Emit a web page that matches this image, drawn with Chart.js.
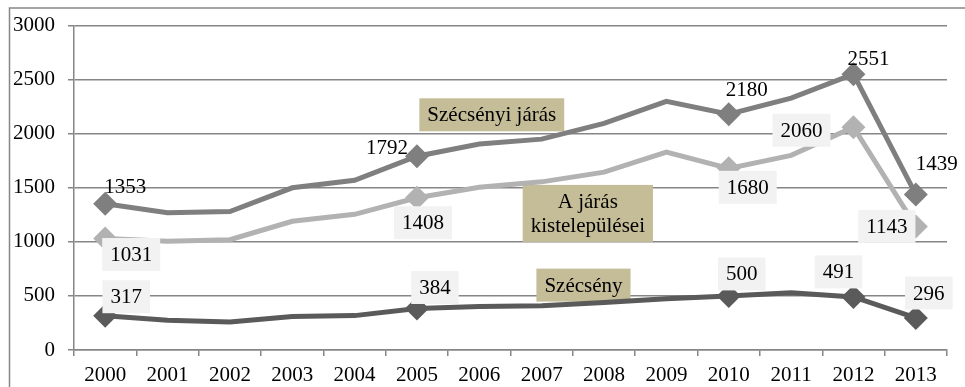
<!DOCTYPE html>
<html>
<head>
<meta charset="utf-8">
<script src="https://cdn.jsdelivr.net/npm/chart.js@4.4.1/dist/chart.umd.min.js"></script>
<style>
  html, body { margin: 0; padding: 0; background: #fff; }
  #wrap { width: 965px; height: 387px; position: relative; }
</style>
</head>
<body>
<div id="wrap"><canvas id="lakossag"></canvas></div>
<script>
// évek és a három sorozat
const evek = ["2000", "2001", "2002", "2003", "2004", "2005", "2006",
              "2007", "2008", "2009", "2010", "2011", "2012", "2013"];
const szecsenyiJaras = [1353, 1270, 1280, 1500, 1570, 1792, 1905, 1950, 2095, 2300, 2180, 2330, 2551, 1439];
const kistelepulesek = [1031, 1005, 1020, 1190, 1255, 1408, 1505, 1555, 1645, 1830, 1680, 1800, 2060, 1143];
const szecseny = [317, 275, 260, 310, 318, 384, 402, 410, 440, 475, 500, 530, 491, 296];
const jelolt = [0, 5, 10, 12, 13]; // csak ezeknél az éveknél van jelölő és címke
const yTicks = [0, 500, 1000, 1500, 2000, 2500, 3000];

const SERIF = "'Liberation Serif', 'Times New Roman', serif";
const GRID = "#868686";
const BETU = 21;
Chart.defaults.font.family = SERIF;
Chart.defaults.font.size = BETU;
Chart.defaults.color = "#000";

// címkék eltolása a ponthoz képest (px), doboz = szürke háttér
const cimkek = [
  { box: false, off: [[20, -17], [-30, -9], [18, -25], [15, -16], [21, -31]] },
  { box: true,  off: [[26, 16], [6, 25], [19, 19], [-52, 3], [-29, 0]] },
  { box: true,  off: [[21, -19], [18, -21], [13, -22], [-15, -25], [13, -25]] }
];

// sorozatnevek drapp dobozban (x: évindex, y: érték)
const nevek = [
  { sorok: ["Szécsényi járás"], x: 6.2, y: 2175 },
  { sorok: ["A járás", "kistelepülései"], x: 7.74, y: 1263 },
  { sorok: ["Szécsény"], x: 7.67, y: 600 }
];

const keret = {
  id: "keret",
  beforeDraw(chart) {
    const c = chart.ctx;
    c.save();
    c.strokeStyle = GRID;
    c.lineWidth = 1.5;
    c.beginPath();
    c.moveTo(9.5, chart.height);
    c.lineTo(9.5, 8);
    c.lineTo(chart.width, 8);
    c.stroke();
    c.restore();
  }
};

const nevDobozok = {
  id: "nevDobozok",
  beforeDatasetsDraw(chart) {
    const c = chart.ctx;
    const xs = chart.scales.x, ys = chart.scales.y;
    c.save();
    c.font = BETU + "px " + SERIF;
    c.textAlign = "center";
    c.textBaseline = "middle";
    nevek.forEach(n => {
      const cx = xs.getPixelForValue(n.x);
      const cy = ys.getPixelForValue(n.y);
      const w = Math.max(...n.sorok.map(s => c.measureText(s).width)) + 16;
      const lh = 24;
      const h = n.sorok.length * lh + 9;
      c.fillStyle = "#c4bd97";
      c.fillRect(cx - w / 2, cy - h / 2, w, h);
      c.fillStyle = "#000";
      n.sorok.forEach((s, i) => {
        c.fillText(s, cx, cy - ((n.sorok.length - 1) * lh) / 2 + i * lh + 1);
      });
    });
    c.restore();
  }
};

const ertekCimkek = {
  id: "ertekCimkek",
  afterDatasetsDraw(chart) {
    const c = chart.ctx;
    c.save();
    c.font = BETU + "px " + SERIF;
    c.textAlign = "center";
    c.textBaseline = "middle";
    chart.data.datasets.forEach((ds, di) => {
      const meta = chart.getDatasetMeta(di);
      jelolt.forEach((idx, k) => {
        const p = meta.data[idx];
        const [dx, dy] = cimkek[di].off[k];
        const txt = String(ds.data[idx]);
        const x = p.x + dx, y = p.y + dy;
        if (cimkek[di].box) {
          const w = c.measureText(txt).width + 16;
          c.fillStyle = "#f2f2f2";
          c.fillRect(x - w / 2, y - 16.5, w, 33);
        }
        c.fillStyle = "#000";
        c.fillText(txt, x, y + 1);
      });
    });
    c.restore();
  }
};

function sorozat(data, szin) {
  return {
    data: data,
    borderColor: szin,
    backgroundColor: szin,
    borderWidth: 5,
    tension: 0,
    pointStyle: "rectRot",
    pointRadius: ctx => (jelolt.includes(ctx.dataIndex) ? 12 : 0),
    pointHoverRadius: 0,
    pointBorderWidth: 0
  };
}

new Chart(document.getElementById("lakossag"), {
  type: "line",
  data: {
    labels: evek,
    datasets: [
      sorozat(szecsenyiJaras, "#7f7f7f"),
      sorozat(kistelepulesek, "#b2b2b2"),
      sorozat(szecseny, "#5a5a5a")
    ]
  },
  options: {
    responsive: true,
    maintainAspectRatio: false,
    animation: false,
    layout: { padding: { top: 22, right: 18, left: 0, bottom: 0 } },
    plugins: { legend: { display: false }, tooltip: { enabled: false } },
    scales: {
      x: {
        offset: true,
        grid: { offset: true, drawOnChartArea: false, color: GRID, lineWidth: 1.5, tickLength: 6 },
        border: { color: GRID, width: 1.5 },
        ticks: { padding: 7, maxRotation: 0, autoSkip: false },
        afterFit: s => { s.height = 37; }
      },
      y: {
        min: 0,
        max: 3000,
        afterBuildTicks: s => { s.ticks = yTicks.map(v => ({ value: v })); },
        grid: { color: GRID, lineWidth: 1.5, tickLength: 6 },
        border: { color: GRID, width: 1.5 },
        ticks: { padding: 13, callback: v => String(v) },
        afterFit: s => { s.width = 74; }
      }
    }
  },
  plugins: [keret, nevDobozok, ertekCimkek]
});
</script>
</body>
</html>
